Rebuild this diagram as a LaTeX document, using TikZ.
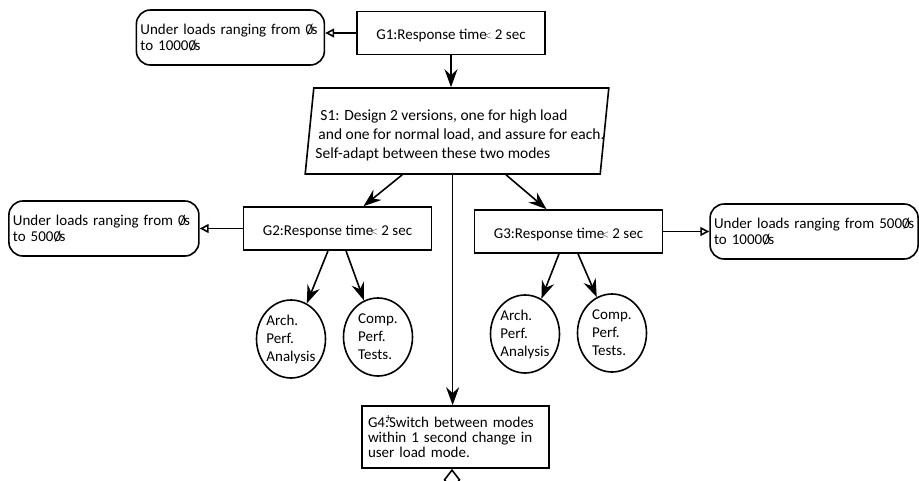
\documentclass[tikz,border=0pt]{standalone}
\usepackage{fontspec}
\setmainfont{Carlito}
\usepackage{tikz}
\usetikzlibrary{positioning}
\usetikzlibrary{arrows.meta}
\usetikzlibrary{shapes.geometric}
\usetikzlibrary{calc}

\newcommand{\zslash}{\rlap{\kern1.5pt/}0\kern-1.5pt s}
\newcommand{\ltmark}{\kern-3pt\raisebox{1pt}{\fontsize{10pt}{10pt}\selectfont$<$}}
\newcommand{\plusmark}{\rlap{\raisebox{6pt}{\kern0.5pt\fontsize{11pt}{11pt}\selectfont+}}}

\begin{document}
\begin{tikzpicture}[x=1pt,y=-1pt,
  font=\fontsize{15pt}{16pt}\selectfont,
  goal/.style={rectangle,draw=black,line width=1.6pt,minimum width=188pt,minimum height=43pt,inner sep=0pt},
  note/.style={rectangle,rounded corners=14pt,draw=black,line width=1.6pt,align=left,inner sep=4pt,minimum height=55pt},
  tech/.style={ellipse,draw=black,line width=1.6pt,minimum width=69pt,minimum height=78pt,inner sep=0pt},
  link/.style={-{Stealth[length=18pt,width=13pt,inset=6pt]},line width=1.6pt},
  ctx/.style={-{Triangle[open,length=9pt,width=9pt]},line width=1.6pt}]
\useasboundingbox (0,0) rectangle (919,480);

\node[goal,text height=16pt,text depth=3pt](g1) at (451,33){G1:Response time\ltmark\ 2 sec};
\node[note,text width=180pt,left = 31pt of g1,yshift=-4.5pt](n1){Under loads ranging from \zslash\\to 1000\zslash};
\draw[ctx](g1.west) -- (g1.west -| n1.east);

\node[rectangle,xslant=0.1,transform shape,draw=black,line width=1.6pt,minimum width=295pt,minimum height=86pt,inner sep=0pt](s1) at (457,131){};
\node[align=left,font=\fontsize{15.5pt}{19pt}\selectfont](s1text) at ($(s1.center)+(3,4)$){\hspace*{5pt}S1: Design 2 versions, one for high load\\\hspace*{3pt}and one for normal load, and assure for each.\\Self-adapt between these two modes};
\draw[link](g1.south) -- (g1.south |- s1.north);

\coordinate (s1l) at ($(s1.south west)!0.33!(s1.south east)$);
\coordinate (s1m) at ($(s1.south west)!0.5!(s1.south east)$);
\coordinate (s1r) at ($(s1.south west)!0.68!(s1.south east)$);

\node[goal,text height=16pt,text depth=3pt](g2) at (337.5,228.5){G2:Response time\ltmark\ 2 sec};
\node[goal,text height=16pt,text depth=3pt](g3) at (568.5,231.5){G3:Response time\ltmark\ 2 sec};
\draw[link](s1l) -- ([xshift=26pt]g2.north);
\draw[link](s1r) -- ([xshift=-22pt]g3.north);

\node[note,text width=182pt,left = 43pt of g2](n2){Under loads ranging from \zslash\\to 500\zslash};
\draw[ctx](g2.west) -- (g2.west -| n2.east);
\node[note,text width=200pt,right = 46pt of g3](n3){\mbox{Under loads ranging from 500\zslash}\\to 1000\zslash};
\draw[ctx](g3.east) -- (g3.east -| n3.west);

\node[tech,label={[align=left,font=\fontsize{15pt}{18pt}\selectfont]center:Arch.\\Perf.\\Analysis}](e1) at (291,339){};
\node[tech,label={[align=left,font=\fontsize{15pt}{18pt}\selectfont]center:Comp.\\Perf.\\Tests.}](e2) at (378,337){};
\node[tech,label={[align=left,font=\fontsize{15pt}{18pt}\selectfont]center:Arch.\\Perf.\\Analysis}](e3) at (525,334){};
\node[tech,label={[align=left,font=\fontsize{15pt}{18pt}\selectfont]center:Comp.\\Perf.\\Tests.}](e4) at (612,333){};
\draw[link]([xshift=-9.5pt]g2.south) -- (e1.66);
\draw[link]([xshift=8.5pt]g2.south) -- (e2.111);
\draw[link]([xshift=-9.5pt]g3.south) -- (e3.65);
\draw[link]([xshift=9.5pt]g3.south) -- (e4.113);

\node[goal,minimum width=187pt,minimum height=62pt,text width=175pt,align=left,font=\fontsize{15pt}{15pt}\selectfont](g4) at (455.5,437){G4\plusmark:Switch between modes\\within 1 second change in\\user load mode.};
\draw[link](s1m) -- (s1m |- g4.north);

\coordinate (g4out) at (452,520);
\draw[line width=1.6pt,-{Diamond[open,length=22pt,width=17pt]}](g4out) -- (g4out |- g4.south);

\end{tikzpicture}
\end{document}
